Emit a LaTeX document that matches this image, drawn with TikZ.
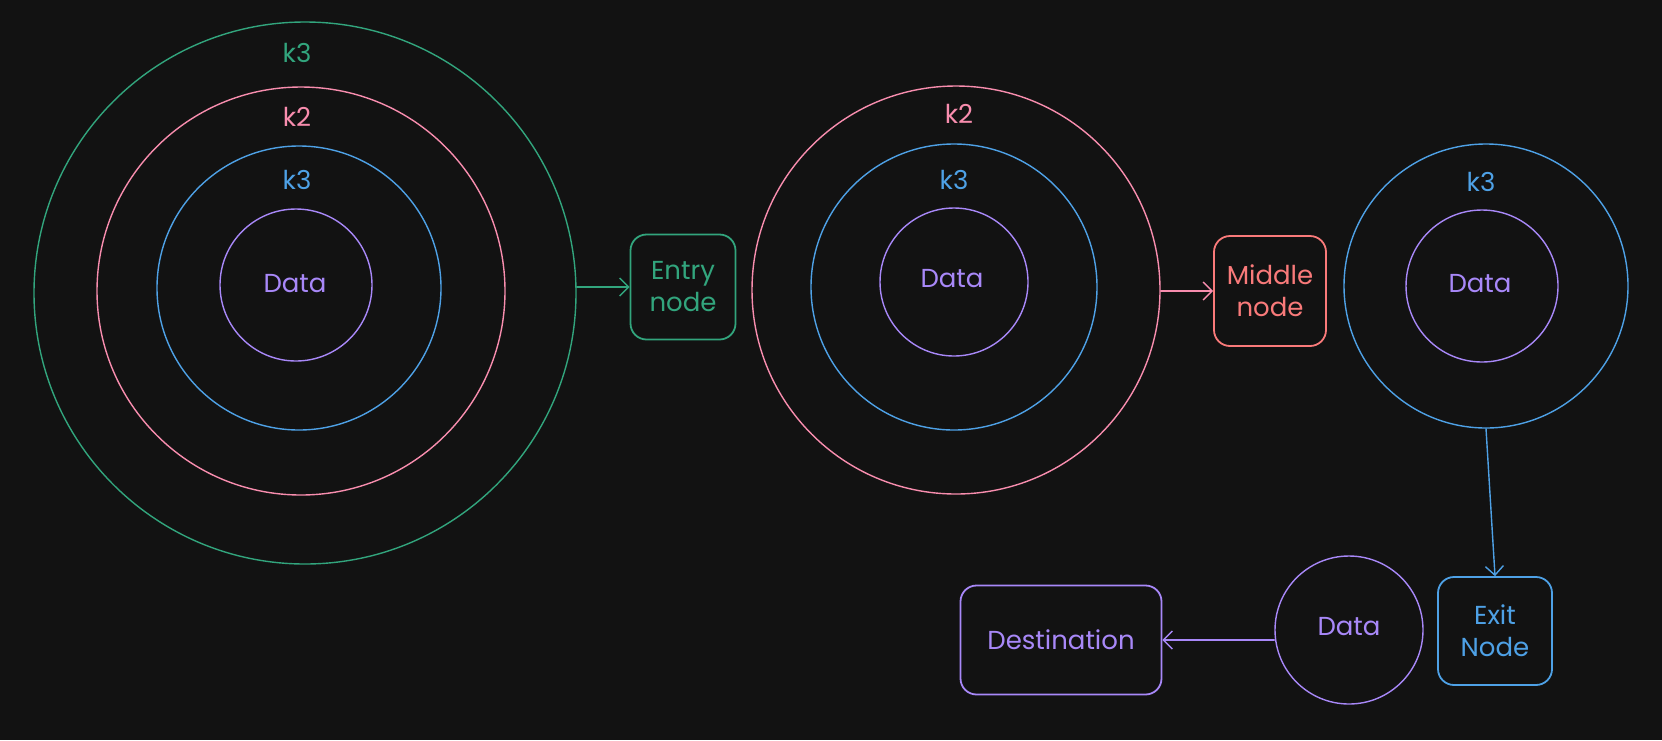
\documentclass[tikz,border=0pt]{standalone}
\usepackage{fontspec}
\setmainfont{Poppins}
\usetikzlibrary{arrows.meta, calc}

\definecolor{bgcol}{HTML}{121212}
\definecolor{grn}{HTML}{32A57D}
\definecolor{pnk}{HTML}{F88DAE}
\definecolor{blu}{HTML}{4EA1E6}
\definecolor{pur}{HTML}{A888F8}
\definecolor{rd}{HTML}{F97A7A}

\tikzset{
  ring/.style={circle, draw=#1, line width=1.4pt, inner sep=0pt},
  hop/.style={rectangle, rounded corners=16pt, draw=#1, line width=1.8pt,
    text=#1, align=center, font=\fontsize{26}{32}\selectfont},
  lbl/.style={text=#1, font=\fontsize{26}{30}\selectfont},
  link/.style={draw=#1, line width=1.4pt, -{Straight Barb[length=9pt,width=18pt]}}
}

\begin{document}
\begin{tikzpicture}[line cap=round,line join=round,x=1pt,y=-1pt]
\fill[bgcol] (0,0) rectangle (1662,740);
\useasboundingbox (0,0) rectangle (1662,740);

% left onion
\node[ring=grn, minimum size=542pt] (outerA) at (305,293) {};
\node[ring=pnk, minimum size=408pt] (midA) at (301,291) {};
\node[ring=blu, minimum size=284pt] (innerA) at (299,288) {};
\node[ring=pur, minimum size=152pt] (dataA) at (296,285) {};

\node[lbl=grn] (kA3) at (297,53) {k3};
\node[lbl=pnk] (kA2) at (297,117) {k2};
\node[lbl=blu] (kA1) at (297,180) {k3};
\node[lbl=pur] (tA) at (295,284) {Data};

% middle onion
\node[ring=pnk, minimum size=408pt] (midB) at (956,290) {};
\node[ring=blu, minimum size=286pt] (innerB) at (954,287) {};
\node[ring=pur, minimum size=148pt] (dataB) at (954,282) {};

\node[lbl=pnk] (kB2) at (959,114) {k2};
\node[lbl=blu] (kB1) at (954,180) {k3};
\node[lbl=pur] (tB) at (952,279) {Data};

% right onion
\node[ring=blu, minimum size=284pt] (innerC) at (1486,286) {};
\node[ring=pur, minimum size=152pt] (dataC) at (1482,286) {};

\node[lbl=blu] (kC1) at (1481,182) {k3};
\node[lbl=pur] (tC) at (1480,284) {Data};

% bare data
\node[ring=pur, minimum size=148pt] (dataD) at (1349,630) {};
\node[lbl=pur] (tD) at (1349,627) {Data};

% relays
\node[hop=grn, minimum width=105pt, minimum height=105pt] (entry) at (683,287) {Entry\\node};
\node[hop=rd, minimum width=112pt, minimum height=110pt] (middle) at (1270,291) {Middle\\node};
\node[hop=blu, minimum width=114pt, minimum height=108pt] (exit) at (1495,631) {Exit\\Node};
\node[hop=pur, minimum width=201pt, minimum height=109pt] (dest) at (1061,640) {Destination};

\draw[link=grn] (entry.west -| outerA.east) -- (entry.west);
\draw[link=pnk] (middle.west -| midB.east) -- (middle.west);
\draw[link=blu] (innerC.south) -- (exit.north);
\draw[link=pur] (dest.east -| dataD.west) -- (dest.east);

\end{tikzpicture}
\end{document}
